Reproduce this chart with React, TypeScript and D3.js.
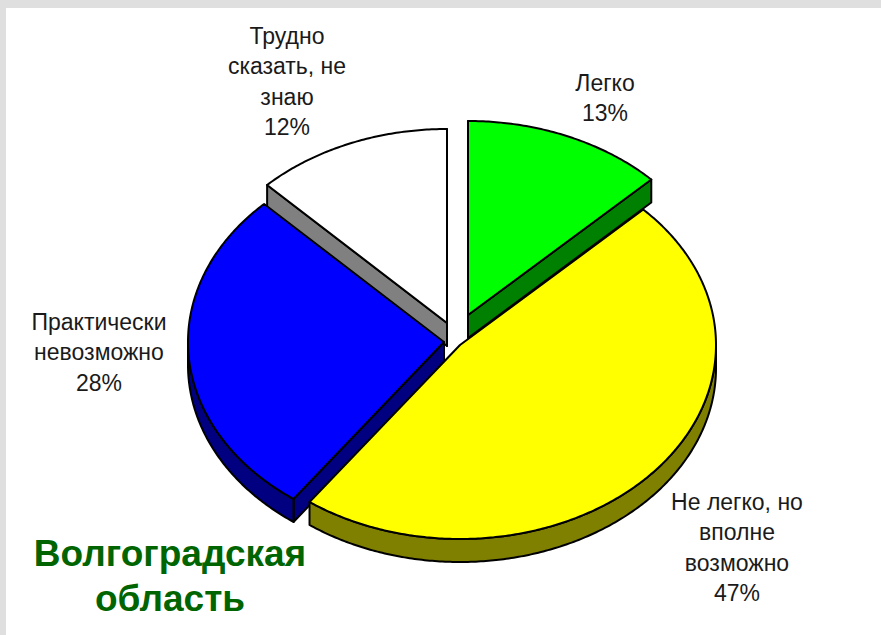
import React from 'react';
import * as d3 from 'd3';

const width = 881;
const height = 635;

const categories = ['Легко', 'Не легко, но вполне возможно', 'Практически невозможно', 'Трудно сказать, не знаю'];
const shares = [12.7, 47.3, 27.6, 12.4];
const topColors = ['#00ff00', '#ffff00', '#0000ff', '#ffffff'];
const sideColors = ['#008000', '#808000', '#000080', '#808080'];
const centers: [number, number][] = [[468, 315], [460, 345], [444, 342], [447, 323]];

// wrapped label lines and their anchor (centre x, first baseline)
const labelLines = [
  ['Легко', '13%'],
  ['Не легко, но', 'вполне', 'возможно', '47%'],
  ['Практически', 'невозможно', '28%'],
  ['Трудно', 'сказать, не', 'знаю', '12%'],
];
const labelPos: [number, number][] = [[605, 91], [737, 510], [99, 330], [287, 44]];

const rx = 256;
const ry = 194;
const depth = 23;

const pie = d3.pie<number>().sort(null).value((d) => d);
const slices = pie(shares);

const px = (a: number) => rx * Math.sin(a);
const py = (a: number) => -ry * Math.cos(a);
const line = d3.line<[number, number]>();

function arcPts(a0: number, a1: number, dy = 0): [number, number][] {
  const n = Math.max(2, Math.ceil((a1 - a0) / 0.01));
  return d3.range(n + 1).map((i) => {
    const a = a0 + ((a1 - a0) * i) / n;
    return [px(a), py(a) + dy] as [number, number];
  });
}

// radial cut face, apex to rim, pushed down by the depth
function cutFace(a: number) {
  return line([[0, 0], [px(a), py(a)], [px(a), py(a) + depth], [0, depth]]) + 'Z';
}

// outer wall, only the part that faces the viewer
function wall(a0: number, a1: number) {
  const from = Math.max(a0, Math.PI / 2);
  const to = Math.min(a1, (3 * Math.PI) / 2);
  if (to <= from) return null;
  return line([...arcPts(from, to), ...arcPts(from, to, depth).reverse()]) + 'Z';
}

function topFace(a0: number, a1: number) {
  return line([[0, 0], ...arcPts(a0, a1)]) + 'Z';
}

// back slices first, so the blue and yellow tops sit over the grey and green sides
const drawOrder = [3, 0, 2, 1];
const eps = 1e-9;

export default function App() {
  return (
    <svg
      width={width}
      height={height}
      viewBox={`0 0 ${width} ${height}`}
      style={{ position: 'absolute', left: 0, top: 0, display: 'block', background: '#dfdfdf' }}
    >
      <rect x={6} y={8} width={width - 6} height={height - 8} fill="#ffffff" />
      {drawOrder.map((i) => {
        const s = slices[i];
        const [cx, cy] = centers[i];
        const w = wall(s.startAngle, s.endAngle);
        const faces: string[] = [];
        // a cut face shows only when it looks down towards the viewer
        if (Math.sin(s.startAngle) < eps) faces.push(cutFace(s.startAngle));
        if (Math.sin(s.endAngle) > -eps) faces.push(cutFace(s.endAngle));
        return (
          <g key={categories[i]} transform={`translate(${cx},${cy})`} stroke="#000000" strokeWidth={2} strokeLinejoin="round">
            {faces.map((d, k) => <path key={k} d={d} fill={sideColors[i]} />)}
            {w && <path d={w} fill={sideColors[i]} />}
            <path d={topFace(s.startAngle, s.endAngle)} fill={topColors[i]} />
          </g>
        );
      })}
      <g fontFamily='"Liberation Sans", Arial, sans-serif' fontSize={23} fill="#1a1a1a" textAnchor="middle">
        {labelLines.map((lines, i) =>
          lines.map((t, k) => (
            <text key={t} x={labelPos[i][0]} y={labelPos[i][1] + k * 30.4}>{t}</text>
          ))
        )}
      </g>
      <g fontFamily='"Liberation Sans", Arial, sans-serif' fontSize={37} fontWeight="bold" fill="#006400" textAnchor="middle">
        <text x={170} y={566}>Волгоградская</text>
        <text x={170} y={611}>область</text>
      </g>
    </svg>
  );
}
